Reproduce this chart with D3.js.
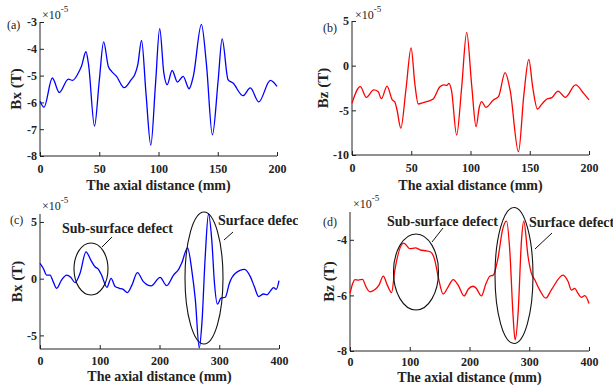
<!DOCTYPE html>
<html>
<head>
<meta charset="utf-8">
<title>Bx / Bz axial distance</title>
<script src="https://cdn.jsdelivr.net/npm/d3@7"></script>
<style>
  body { margin: 0; background: #fff; }
  text { font-family: "Liberation Serif", "Times New Roman", serif; fill: #222; }
  .tick text { font-weight: bold; font-size: 12px; }
  .lab { font-weight: bold; font-size: 14px; }
  .ylab { font-weight: bold; font-size: 15px; }
  .note { font-weight: bold; font-size: 14px; }
  .small { font-size: 12px; }
</style>
</head>
<body>
<div id="chart"></div>
<script>

// panel (a) Bx, 0-200 mm
var axDist = [0, 3.4, 10.4, 16.3, 23.9, 27.5, 33.7, 35, 38.8, 41, 46, 50, 53.7, 57.6, 60.4, 64.6, 71, 77, 80, 82.5, 85.7, 89.5, 93.5, 97.5, 101, 104.5, 107.3, 111.5, 116, 120.8, 125.8, 129.5, 136.2, 140.5, 145.5, 150.3, 153.7, 158.7, 162.9, 171.3, 177.5, 184.6, 194.4, 200];
var axVal  = [-5.96, -6.18, -5.09, -5.63, -5.13, -5.18, -4.78, -4.65, -4.11, -4.6, -6.88, -5.2, -3.74, -4.65, -4.84, -5.03, -5.45, -5.15, -4.96, -4.6, -3.69, -5.7, -7.59, -5.3, -3.25, -4.9, -5.34, -4.81, -5.24, -5.03, -5.49, -5.0, -3.09, -4.6, -7.21, -5.2, -3.63, -5.15, -5.28, -5.75, -5.46, -5.98, -5.18, -5.4];

// panel (b) Bz, 0-200 mm
var bzDist = [0, 7, 12.1, 18.3, 22, 24.8, 29.6, 34, 36, 38, 41.2, 45.5, 49.9, 53, 55.9, 60, 68.5, 74.2, 77.6, 80, 81.8, 84, 88.3, 92.5, 96.8, 101, 104.7, 107.5, 109.4, 113, 119.3, 123.6, 129.2, 133.5, 140.5, 145, 149.2, 152.5, 156.5, 160.2, 164.5, 168.7, 173.8, 180, 188.7, 195.5, 200];
var bzVal  = [-4.2, -2.35, -3.55, -2.72, -2.9, -3.7, -2.28, -3.84, -4.03, -4.96, -7.0, -2.7, 2.0, -2.0, -4.29, -4.14, -3.73, -2.35, -2.16, -2.2, -1.98, -2.8, -7.76, -2.5, 3.73, -2.2, -6.83, -4.6, -4.03, -4.66, -3.84, -3.47, -0.78, -2.8, -9.63, -3.3, 0.71, -2.4, -4.85, -4.3, -3.73, -3.58, -2.84, -3.54, -2.16, -3.1, -3.84];

// panel (c) Bx, 0-400 mm
var cxDist = [0, 5.6, 11, 16.8, 22, 28, 36, 44.7, 51.4, 58.7, 67, 77, 85, 92, 97.8, 103, 112, 119, 125.7, 133, 138.5, 146.4, 154, 163, 173, 186, 201, 212, 223.5, 232, 237, 247, 254, 260, 266.5, 271, 276.5, 282, 287.5, 292, 297, 302.8, 310, 317, 327, 342.5, 352, 358.7, 366, 374, 380, 385.5, 391, 395.5, 400];
var cxVal  = [1.35, 0.9, 0.32, 0.32, -0.26, -0.85, -0.12, 0.32, 0.12, -0.35, 0.47, 2.37, 1.64, 1.05, 0.82, 0.32, -0.76, 0.03, -0.7, -0.85, -0.93, -1.23, -0.55, 0.53, -0.26, -0.64, 0.12, -0.61, 0.32, 0.82, 1.35, 2.72, 0.76, -1.87, -6.1, -3.9, 1.93, 5.7, 3.4, -0.4, -2.25, -1.72, -1.64, -0.4, 0.47, 0.82, 0.18, -0.7, -1.58, -1.35, -1.43, -1.1, -0.79, -0.94, -0.18];

// panel (d) Bz, 0-400 mm
var dzDist = [0, 4.5, 8.4, 14, 21, 26.7, 33.4, 41.8, 48.5, 55.7, 62.4, 69.6, 75, 90, 94.5, 100, 109.7, 117, 128, 135, 142, 147.6, 156, 164.3, 172.7, 181, 191, 197.8, 206, 211.5, 220, 227.6, 234, 239.6, 248, 255, 262, 267.4, 273, 276.3, 281.3, 287, 290.8, 298, 303.6, 309, 317.6, 327.6, 337, 356.6, 365, 370.5, 376, 381.7, 387.2, 393, 400];
var dzVal  = [-5.93, -5.57, -5.43, -5.45, -5.42, -5.69, -5.87, -5.79, -5.63, -5.31, -5.63, -5.9, -5.1, -4.12, -4.2, -4.32, -4.29, -4.36, -4.4, -4.44, -4.74, -5.33, -5.95, -5.69, -5.43, -5.63, -6.02, -5.78, -5.67, -5.75, -6.02, -5.57, -5.31, -5.27, -4.62, -3.67, -3.33, -4.38, -6.76, -7.6, -6.64, -4.02, -3.33, -4.6, -5.21, -5.43, -5.81, -6.1, -5.8, -5.27, -5.5, -5.81, -5.75, -5.93, -6.07, -6.01, -6.29];

var xTicksShort = [0, 50, 100, 150, 200];
var xTicksLong = [0, 100, 200, 300, 400];

var svg = d3.select("#chart").append("svg")
    .attr("width", 613)
    .attr("height", 387);

// plain hyphen minus, like the original figure
function fmt(d) { return String(d); }

var panels = [
    { name: "(a)", dist: axDist, val: axVal, color: "#0000ff", ylab: "Bx (T)",
      left: 40, right: 277, top: 22, bottom: 156, xmax: 200, ydom: [-8, -3],
      xticks: xTicksShort, yticks: [-8, -7, -6, -5, -4, -3], xpad: 8,
      nameX: 7, nameY: 29, expX: 42, expY: 19, ylabX: 21, xlabY: 190 },
    { name: "(b)", dist: bzDist, val: bzVal, color: "#ff0000", ylab: "Bz (T)",
      left: 352, right: 589, top: 21, bottom: 155, xmax: 200, ydom: [-10, 5],
      xticks: xTicksShort, yticks: [-10, -5, 0, 5], xpad: 8,
      nameX: 323, nameY: 32, expX: 355, expY: 19, ylabX: 328, xlabY: 190 },
    { name: "(c)", dist: cxDist, val: cxVal, color: "#0000ff", ylab: "Bx (T)",
      left: 40, right: 279, top: 214, bottom: 349, xmax: 400, ydom: [-6.2, 5.7],
      xticks: xTicksLong, yticks: [-5, 0, 5], clipW: 298, xpad: 7,
      nameX: 10, nameY: 224, expX: 42, expY: 210, ylabX: 22, xlabY: 381 },
    { name: "(d)", dist: dzDist, val: dzVal, color: "#ff0000", ylab: "Bz (T)",
      left: 350, right: 589, top: 212, bottom: 351, xmax: 400, ydom: [-8, -3],
      xticks: xTicksLong, yticks: [-8, -6, -4], xpad: 6,
      nameX: 323, nameY: 226, expX: 353, expY: 208, ylabX: 334, xlabY: 382 }
];

panels.forEach(function(p, i) {
    var g = svg.append("g");
    if (p.clipW) {
        svg.append("clipPath").attr("id", "clip" + i)
            .append("rect").attr("x", 0).attr("y", 195).attr("width", p.clipW).attr("height", 192);
        g.attr("clip-path", "url(#clip" + i + ")");
    }

    var x = d3.scaleLinear().domain([0, p.xmax]).range([p.left, p.right]);
    var y = d3.scaleLinear().domain(p.ydom).range([p.bottom, p.top]);

    g.append("g")
        .attr("transform", "translate(0," + p.bottom + ")")
        .call(d3.axisBottom(x).tickValues(p.xticks).tickFormat(fmt).tickSizeInner(-4).tickSizeOuter(0).tickPadding(p.xpad))
        .call(function(a) { a.selectAll("line, path").attr("stroke", "#222"); });

    g.append("g")
        .attr("transform", "translate(" + p.left + ",0)")
        .call(d3.axisLeft(y).tickValues(p.yticks).tickFormat(fmt).tickSizeInner(-4).tickSizeOuter(0).tickPadding(3))
        .call(function(a) { a.selectAll("line, path").attr("stroke", "#222"); });

    g.selectAll(".domain").attr("d", null);
    g.append("line").attr("x1", p.left).attr("x2", p.right).attr("y1", p.bottom).attr("y2", p.bottom).attr("stroke", "#222");
    g.append("line").attr("x1", p.left).attr("x2", p.left).attr("y1", p.top).attr("y2", p.bottom).attr("stroke", "#222");

    var line = d3.line()
        .x(function(d, j) { return x(p.dist[j]); })
        .y(function(d) { return y(d); })
        .curve(d3.curveMonotoneX);

    g.append("path")
        .attr("d", line(p.val))
        .attr("fill", "none")
        .attr("stroke", p.color)
        .attr("stroke-width", 1.3);

    g.append("text").attr("class", "small").attr("x", p.nameX).attr("y", p.nameY).text(p.name);

    var ex = g.append("text").attr("class", "small").attr("x", p.expX).attr("y", p.expY);
    ex.append("tspan").text("\u00d710");
    ex.append("tspan").attr("dy", -7).attr("font-size", "9px").text("-5");

    g.append("text").attr("class", "ylab")
        .attr("transform", "translate(" + p.ylabX + "," + ((p.top + p.bottom) / 2) + ") rotate(-90)")
        .attr("text-anchor", "middle")
        .text(p.ylab);

    g.append("text").attr("class", "lab")
        .attr("x", (p.left + p.right) / 2).attr("y", p.xlabY)
        .attr("text-anchor", "middle")
        .text("The axial distance (mm)");

    p.g = g;
});

// defect markers
var marks = [
    { panel: 2, cx: 91, cy: 269, rx: 17, ry: 26, text: "Sub-surface defect", tx: 62, ty: 233, l: [102, 247, 112, 237] },
    { panel: 2, cx: 204, cy: 278, rx: 19, ry: 66, text: "Surface defect", tx: 218, ty: 225, l: [224, 240, 233, 232] },
    { panel: 3, cx: 416, cy: 272, rx: 22.5, ry: 38, text: "Sub-surface defect", tx: 387, ty: 226, l: [432, 242, 443, 228] },
    { panel: 3, cx: 514, cy: 275.5, rx: 19, ry: 68, text: "Surface defect", tx: 529, ty: 227, l: [535, 249, 552, 233] }
];

marks.forEach(function(m) {
    var g = panels[m.panel].g;
    g.append("ellipse").attr("cx", m.cx).attr("cy", m.cy).attr("rx", m.rx).attr("ry", m.ry)
        .attr("fill", "none").attr("stroke", "#111").attr("stroke-width", 1.1);
    g.append("line").attr("x1", m.l[0]).attr("y1", m.l[1]).attr("x2", m.l[2]).attr("y2", m.l[3])
        .attr("stroke", "#111").attr("stroke-width", 1);
    g.append("text").attr("class", "note").attr("x", m.tx).attr("y", m.ty).text(m.text);
});

</script>
</body>
</html>
